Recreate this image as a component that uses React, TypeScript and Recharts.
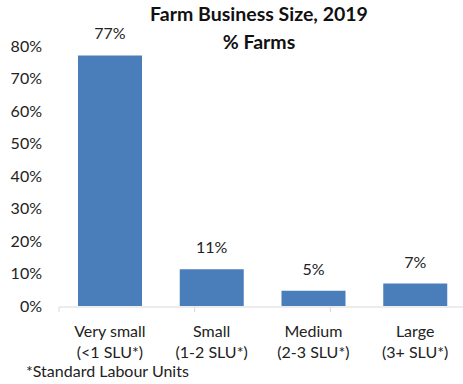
import { BarChart, Bar, XAxis, YAxis, LabelList } from 'recharts';

const categories = ['Very small', 'Small', 'Medium', 'Large'];
const subLabels = ['(<1 SLU*)', '(1-2 SLU*)', '(2-3 SLU*)', '(3+ SLU*)'];
const farmShare = [77.1, 11.3, 4.7, 6.9];
const yTicks = [0, 10, 20, 30, 40, 50, 60, 70, 80];
const edgeTicks = [0, 1, 2, 3, 4];

const data = categories.map((name, i) => ({ name, sub: subLabels[i], pct: farmShare[i] }));

const FONT = 'Lato, "Open Sans", sans-serif';
const TEXT = '#222';

function CategoryTick({ x, y, payload, index }: any) {
  return (
    <text x={x} y={y} textAnchor="middle" fill={TEXT} fontSize={16} fontFamily={FONT}>
      <tspan x={x} dy={23}>{payload.value}</tspan>
      <tspan x={x} dy={21}>{subLabels[index]}</tspan>
    </text>
  );
}

export default function App() {
  return (
    <div style={{ position: 'absolute', left: 0, top: 0, width: 463, height: 384, overflow: 'hidden', background: '#fff' }}>
      <div style={{ position: 'absolute', left: 0, width: 518, top: 0, textAlign: 'center', fontFamily: FONT, fontWeight: 700, fontSize: 19.5, lineHeight: '28px', color: '#111' }}>
        Farm Business Size, 2019
        <br />% Farms
      </div>
      <BarChart
        width={470}
        height={384}
        data={data}
        margin={{ top: 46, right: 4, left: 0, bottom: 76 }}
        barSize={64}
      >
        <XAxis
          xAxisId="edge"
          type="number"
          domain={[0, 4]}
          ticks={edgeTicks}
          tickFormatter={() => ''}
          height={1}
          axisLine={{ stroke: '#d9d9d9' }}
          tickLine={{ stroke: '#d9d9d9' }}
          tickSize={5}
        />
        <XAxis
          dataKey="name"
          height={1}
          axisLine={false}
          tickLine={false}
          tick={<CategoryTick />}
          interval={0}
        />
        <YAxis
          domain={[0, 80]}
          ticks={yTicks}
          width={59}
          axisLine={false}
          tickLine={false}
          tickSize={0}
          tickMargin={17}
          tickFormatter={(v) => `${v}%`}
          tick={{ fill: TEXT, fontSize: 16, fontFamily: FONT }}
        />
        <Bar dataKey="pct" fill="#4a7ebb" isAnimationActive={false}>
          <LabelList
            dataKey="pct"
            position="top"
            offset={16}
            formatter={(v: any) => `${Math.round(v)}%`}
            fill={TEXT}
            fontSize={16}
            fontFamily={FONT}
          />
        </Bar>
      </BarChart>
      <div style={{ position: 'absolute', left: 26, top: 361, fontFamily: FONT, fontSize: 16, color: TEXT }}>
        *Standard Labour Units
      </div>
    </div>
  );
}
